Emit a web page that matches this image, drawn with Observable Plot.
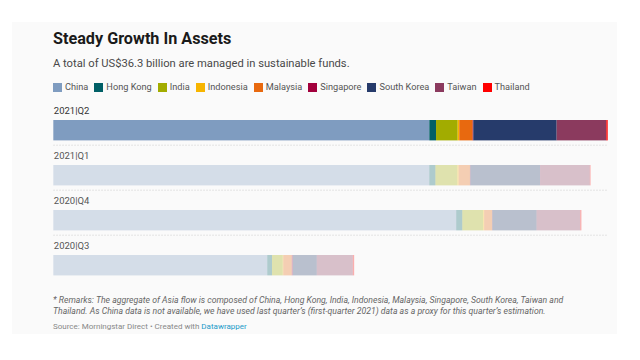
<!DOCTYPE html>
<html>
<head>
<meta charset="utf-8">
<script src="https://cdn.jsdelivr.net/npm/d3@7"></script>
<script src="https://cdn.jsdelivr.net/npm/@observablehq/plot@0.6"></script>
<style>
  html, body { margin: 0; padding: 0; background: #ffffff; width: 640px; height: 360px; overflow: hidden; }
  body { font-family: Roboto, "Noto Sans", sans-serif; position: relative; }
  #panel { position: absolute; left: 12px; top: 22px; width: 605px; height: 312px; background: #fafafa; }
  #title { position: absolute; left: 53px; top: 30px; font-size: 16.2px; font-weight: 700; color: #1a1a1a; line-height: 18px; }
  #subtitle { position: absolute; left: 53px; top: 57px; font-size: 11.2px; color: #494949; line-height: 14px; }
  #legend { position: absolute; left: 53px; top: 81px; display: flex; font-size: 9.2px; color: #555; white-space: nowrap; line-height: 12px; }
  .li { display: flex; align-items: center; margin-right: 6px; }
  .sw { width: 9px; height: 9px; margin-right: 3px; }
  #chart { position: absolute; left: 0; top: 100px; }
  #foot { position: absolute; left: 53px; top: 295px; width: 530px; font-size: 8.7px; font-style: italic; color: #666; line-height: 11px; }
  #source { position: absolute; left: 53px; top: 321px; font-size: 8px; color: #888; line-height: 11px; }
  #source span { color: #1d9bc9; }
</style>
</head>
<body>
<div id="panel"></div>
<div id="title">Steady Growth In Assets</div>
<div id="subtitle">A total of US$36.3 billion are managed in sustainable funds.</div>
<div id="legend"></div>
<div id="chart"></div>
<div id="foot">* Remarks: The aggregate of Asia flow is composed of China, Hong Kong, India, Indonesia, Malaysia, Singapore, South Korea, Taiwan and Thailand. As China data is not available, we have used last quarter’s (first-quarter 2021) data as a proxy for this quarter’s estimation.</div>
<div id="source">Source: Morningstar Direct • Created with <span>Datawrapper</span></div>
<script>
// Data (US$ billion)
const quarters = ["2021|Q2", "2021|Q1", "2020|Q4", "2020|Q3"];
const countries = ["China", "Hong Kong", "India", "Indonesia", "Malaysia", "Singapore", "South Korea", "Taiwan", "Thailand"];
const colors = ["#7f9cc0", "#005f66", "#a2ac00", "#f7b500", "#e8690f", "#a2003c", "#263b6b", "#8b3a5e", "#ff0000"];
const q2_2021 = [24.62, 0.44, 1.42, 0.10, 0.88, 0.04, 5.46, 3.25, 0.09];
const q1_2021 = [24.62, 0.40, 1.43, 0.09, 0.74, 0.03, 4.56, 3.26, 0.05];
const q4_2020 = [26.38, 0.40, 1.36, 0.07, 0.52, 0.02, 2.89, 2.86, 0.08];
const q3_2020 = [14.01, 0.31, 0.70, 0.04, 0.55, 0.07, 1.57, 2.36, 0.09];
const xMax = 36.3;

const series = [q2_2021, q1_2021, q4_2020, q3_2020];
const rows = [];
quarters.forEach((q, qi) => {
  countries.forEach((c, ci) => rows.push({quarter: q, country: c, value: series[qi][ci]}));
});

// Legend
const legend = document.getElementById("legend");
countries.forEach((c, i) => {
  const el = document.createElement("div");
  el.className = "li";
  el.innerHTML = `<div class="sw" style="background:${colors[i]}"></div><div>${c}</div>`;
  legend.appendChild(el);
});

const step = 45.6;
const chart = Plot.plot({
  width: 640,
  height: step * quarters.length,
  marginLeft: 53.3,
  marginRight: 32.3,
  marginTop: 0,
  marginBottom: 0,
  style: {background: "transparent", fontFamily: "Roboto, sans-serif"},
  x: {domain: [0, xMax], axis: null},
  y: {domain: quarters, axis: null, padding: 0},
  color: {domain: countries, range: colors},
  marks: [
    Plot.ruleY(quarters.slice(0, 3), {y: d => d, x1: 0, x2: xMax, dy: 44 - step / 2, stroke: "#dcdcdc", strokeDasharray: "1.5,1.5"}),
    Plot.barX(rows, Plot.stackX({
      y: "quarter", x: "value", fill: "country", order: countries,
      fillOpacity: d => d.quarter === quarters[0] ? 1 : 0.3,
      insetTop: 19, insetBottom: step - 40
    })),
    Plot.text(quarters, {
      y: d => d, x: 0, text: d => d, textAnchor: "start",
      dy: 10 - step / 2, fontSize: 9.5,
      fontWeight: d => d === quarters[0] ? 700 : 400,
      fill: d => d === quarters[0] ? "#333" : "#555"
    })
  ]
});
document.getElementById("chart").appendChild(chart);
</script>
</body>
</html>
